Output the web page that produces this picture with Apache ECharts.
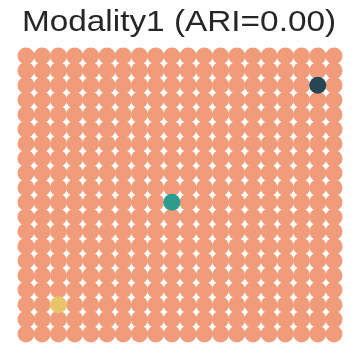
<!DOCTYPE html>
<html><head><meta charset="utf-8">
<script src="https://cdn.jsdelivr.net/npm/echarts@6/dist/echarts.min.js"></script>
<style>html,body{margin:0;padding:0;background:#fff}#c{width:360px;height:359px}</style>
</head><body><div id="c"></div>
<script>
const title = 'Modality1 (ARI=0.00)';
const nCols = 20;
const nRows = 20;
const baseColor = '#f09c7a';
// special spots: [col, row, color]
const spotCols = [18, 9, 2];
const spotRows = [2, 10, 17];
const spotColors = ['#264653', '#2a9d8f', '#e9c46a'];

const baseData = [];
for (let r = 0; r < nRows; r++) for (let c = 0; c < nCols; c++) {
  let special = false;
  for (let k = 0; k < spotCols.length; k++) if (spotCols[k] === c && spotRows[k] === r) special = true;
  if (!special) baseData.push([c, r]);
}
const size = 17;
const series = [{
  type: 'scatter', data: baseData, symbolSize: size, silent: true,
  itemStyle: { color: baseColor, opacity: 1 }
}];
for (let k = 0; k < spotCols.length; k++) {
  series.push({ type: 'scatter', data: [[spotCols[k], spotRows[k]]], symbolSize: size, silent: true,
    itemStyle: { color: spotColors[k], opacity: 1 }, z: 3 });
}
const chart = echarts.init(document.getElementById('c'), null, { renderer: 'canvas' });
chart.setOption({
  animation: false,
  backgroundColor: '#ffffff',
  graphic: [{
    type: 'text', x: 179, y: 23.3, scaleX: 1.15, scaleY: 1,
    style: { text: title, align: 'center', verticalAlign: 'middle',
      font: 'normal 29px "Liberation Sans", Arial, sans-serif', fill: '#262626' }
  }],
  grid: { left: 26, top: 56, width: 308, height: 278 },
  xAxis: { type: 'value', min: 0, max: nCols - 1, show: false },
  yAxis: { type: 'value', min: 0, max: nRows - 1, inverse: true, show: false },
  series: series
});
</script></body></html>
